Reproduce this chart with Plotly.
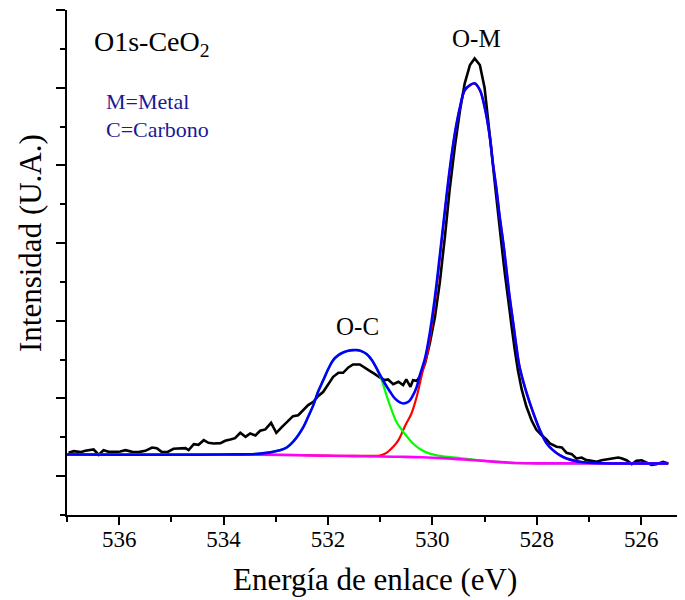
import plotly.graph_objects as go

# ---------------- data ----------------
# experimental spectrum (binding energy eV, intensity a.u.)
exp_x = [536.97, 536.87, 536.74, 536.65, 536.49, 536.39, 536.30, 536.20, 536.07, 535.98,
         535.88, 535.75, 535.63, 535.50, 535.37, 535.28, 535.18, 535.08, 534.96, 534.83,
         534.73, 534.67, 534.57, 534.48, 534.38, 534.29, 534.19, 534.06, 533.97, 533.87,
         533.78, 533.68, 533.58, 533.49, 533.39, 533.30, 533.20, 533.09, 532.99, 532.88,
         532.79, 532.67, 532.57, 532.47, 532.38, 532.28, 532.19, 532.09, 531.99, 531.90,
         531.80, 531.71, 531.61, 531.52, 531.39, 531.29, 531.20, 531.10, 531.01, 530.91,
         530.85, 530.75, 530.65, 530.56, 530.50, 530.42, 530.37, 530.30, 530.24, 530.14,
         530.05, 529.95, 529.86, 529.76, 529.67, 529.57, 529.47, 529.38, 529.28, 529.19,
         529.09, 529.00, 528.93, 528.87, 528.80, 528.74, 528.67, 528.61, 528.55, 528.48,
         528.42, 528.36, 528.29, 528.20, 528.10, 528.01, 527.91, 527.81, 527.75, 527.62,
         527.52, 527.43, 527.33, 527.24, 527.14, 527.05, 526.95, 526.85, 526.76, 526.66,
         526.54, 526.44, 526.38, 526.28, 526.18, 526.09, 525.99, 525.90, 525.80, 525.71,
         525.58, 525.48]
exp_y = [0.300, 0.322, 0.309, 0.326, 0.343, 0.275, 0.335, 0.313, 0.313, 0.318,
         0.335, 0.313, 0.309, 0.326, 0.369, 0.360, 0.309, 0.309, 0.352, 0.352,
         0.360, 0.335, 0.412, 0.403, 0.463, 0.429, 0.421, 0.425, 0.455, 0.472,
         0.489, 0.558, 0.506, 0.549, 0.524, 0.584, 0.601, 0.687, 0.558, 0.635,
         0.700, 0.773, 0.785, 0.850, 0.914, 0.957, 1.030, 1.086, 1.193, 1.279,
         1.330, 1.330, 1.399, 1.438, 1.438, 1.399, 1.356, 1.313, 1.270, 1.236,
         1.245, 1.184, 1.215, 1.172, 1.245, 1.150, 1.236, 1.227, 1.279, 1.451,
         1.708, 2.051, 2.481, 3.081, 3.682, 4.240, 4.712, 5.056, 5.292, 5.377,
         5.292, 5.000, 4.600, 4.200, 3.750, 3.350, 2.950, 2.600, 2.250, 1.920,
         1.620, 1.360, 1.120, 0.900, 0.720, 0.600, 0.530, 0.470, 0.421, 0.378,
         0.369, 0.300, 0.283, 0.227, 0.240, 0.206, 0.197, 0.185, 0.206, 0.215,
         0.223, 0.240, 0.230, 0.205, 0.155, 0.197, 0.205, 0.172, 0.146, 0.155,
         0.185, 0.163]

# background (magenta)
bg_x = [537.0, 534.0, 533.0, 532.5, 532.0, 531.5, 531.0, 530.6, 530.2, 529.8,
        529.4, 529.0, 528.7, 528.4, 528.0, 527.5, 525.5]
bg_y = [0.279, 0.278, 0.275, 0.270, 0.263, 0.258, 0.253, 0.249, 0.243, 0.232,
        0.215, 0.195, 0.180, 0.170, 0.165, 0.164, 0.164]

# O-C component (green)
oc_x = [537.0, 534.0, 533.3, 532.92, 532.79, 532.67, 532.57, 532.47, 532.38, 532.28,
        532.19, 532.09, 531.99, 531.90, 531.80, 531.71, 531.61, 531.52, 531.44, 531.36,
        531.26, 531.16, 531.07, 530.97, 530.88, 530.78, 530.69, 530.59, 530.50, 530.37,
        530.24, 530.05, 529.86, 529.5, 529.0, 528.5, 528.0, 525.5]
oc_y = [0.279, 0.279, 0.290, 0.335, 0.369, 0.442, 0.528, 0.635, 0.764, 0.914,
        1.086, 1.236, 1.386, 1.494, 1.558, 1.592, 1.614, 1.622, 1.622, 1.609,
        1.571, 1.494, 1.386, 1.236, 1.043, 0.850, 0.700, 0.600, 0.520, 0.420,
        0.350, 0.290, 0.262, 0.235, 0.200, 0.172, 0.165, 0.164]

# O-M component (red)
om_x = [537.0, 534.0, 532.5, 532.0, 531.5, 531.13, 531.01, 530.88, 530.75, 530.65,
        530.56, 530.50, 530.40, 530.30, 530.24, 530.18, 530.11, 530.05, 529.95, 529.86,
        529.76, 529.67, 529.57, 529.47, 529.38, 529.28, 529.19, 529.09, 529.00, 528.90,
        528.84, 528.77, 528.71, 528.64, 528.58, 528.52, 528.45, 528.39, 528.33, 528.23,
        528.13, 528.04, 527.94, 527.81, 527.69, 527.56, 527.43, 527.24, 527.05, 526.79,
        526.15, 525.48]
om_y = [0.279, 0.278, 0.270, 0.263, 0.260, 0.262, 0.266, 0.300, 0.378, 0.463,
        0.592, 0.678, 0.807, 1.021, 1.193, 1.365, 1.536, 1.760, 2.250, 2.790,
        3.400, 3.920, 4.400, 4.745, 4.965, 5.030, 5.053, 4.968, 4.753, 4.369,
        4.026, 3.682, 3.339, 2.996, 2.652, 2.309, 1.966, 1.665, 1.408, 1.150,
        0.936, 0.764, 0.592, 0.421, 0.335, 0.270, 0.227, 0.193, 0.176, 0.167,
        0.163, 0.163]

# total fit (blue)
fit_x = [537.0, 534.0, 533.3, 532.92, 532.79, 532.67, 532.57, 532.47, 532.38, 532.28,
         532.19, 532.09, 531.99, 531.90, 531.80, 531.71, 531.61, 531.52, 531.44, 531.36,
         531.26, 531.16, 531.07, 531.00, 530.91, 530.81, 530.72, 530.62, 530.56, 530.46,
         530.37, 530.30, 530.24, 530.14, 530.05, 529.95, 529.86, 529.76, 529.67, 529.57,
         529.47, 529.38, 529.28, 529.19, 529.09, 529.00, 528.90, 528.84, 528.77, 528.71,
         528.64, 528.58, 528.52, 528.45, 528.39, 528.33, 528.23, 528.13, 528.04, 527.94,
         527.81, 527.69, 527.56, 527.43, 527.24, 527.05, 526.79, 526.15, 525.48]
fit_y = [0.279, 0.279, 0.290, 0.335, 0.369, 0.442, 0.528, 0.635, 0.764, 0.914,
         1.086, 1.236, 1.386, 1.494, 1.558, 1.592, 1.614, 1.622, 1.622, 1.609,
         1.571, 1.494, 1.390, 1.300, 1.193, 1.086, 1.000, 0.949, 0.936, 0.957,
         1.043, 1.150, 1.300, 1.520, 1.840, 2.309, 2.824, 3.425, 3.940, 4.412,
         4.755, 4.970, 5.034, 5.056, 4.970, 4.755, 4.369, 4.026, 3.682, 3.339,
         2.996, 2.652, 2.309, 1.966, 1.665, 1.408, 1.150, 0.936, 0.764, 0.592,
         0.421, 0.335, 0.270, 0.227, 0.193, 0.176, 0.167, 0.163, 0.163]

x_ticks = [536, 534, 532, 530, 528, 526]
x_title = "Energía de enlace (eV)"
y_title = "Intensidad (U.A.)"

# ---------------- figure ----------------
SERIF = "Liberation Serif, Times New Roman, serif"
fig = go.Figure()
fig.add_trace(go.Scatter(x=exp_x, y=exp_y, mode="lines",
                         line=dict(color="#000000", width=2.6), name="exp"))
fig.add_trace(go.Scatter(x=om_x, y=om_y, mode="lines", line_shape="spline",
                         line=dict(color="#ff0000", width=2.2), name="O-M"))
fig.add_trace(go.Scatter(x=oc_x, y=oc_y, mode="lines", line_shape="spline",
                         line=dict(color="#00ff00", width=2.2), name="O-C"))
fig.add_trace(go.Scatter(x=bg_x, y=bg_y, mode="lines", line_shape="spline",
                         line=dict(color="#ff00ff", width=2.6), name="bg"))
fig.add_trace(go.Scatter(x=fit_x, y=fit_y, mode="lines", line_shape="spline",
                         line=dict(color="#0000ff", width=2.6), name="fit"))

# page has an 8 px body margin: compensate so the plot area lands where the reference has it
OFF = 8
PL, PT, PB, PR = 67, 10, 515, 685          # plot-area edges on the page
W, H = 685 - OFF, 600 - OFF
L, T = PL - OFF, PT - OFF
B = H - (PB - OFF)
pw = PR - PL
ph = PB - PT

def px(X):
    return (X - PL) / pw

def py(Y):
    return (PB - Y) / ph

fig.update_layout(
    width=W, height=H, autosize=False,
    margin=dict(l=L, r=0, t=T, b=B, pad=0),
    paper_bgcolor="white", plot_bgcolor="white",
    showlegend=False,
    font=dict(family=SERIF, color="black"),
    xaxis=dict(range=[537, 525.16], showgrid=False, zeroline=False,
               showline=True, linecolor="black", linewidth=2,
               ticks="outside", ticklen=8, tickwidth=2, tickcolor="black",
               tickvals=x_ticks, ticktext=[str(v) for v in x_ticks],
               ticklabelstandoff=-6,
               tickfont=dict(family=SERIF, size=23, color="black"),
               minor=dict(dtick=1, tick0=537, ticks="outside", ticklen=5,
                          tickwidth=2, tickcolor="black", showgrid=False)),
    yaxis=dict(range=[-0.5, 6], showgrid=False, zeroline=False,
               showline=True, linecolor="black", linewidth=2,
               ticks="outside", ticklen=9, tickwidth=2, tickcolor="black",
               tick0=0, dtick=1, showticklabels=False,
               minor=dict(dtick=0.5, tick0=0, ticks="outside", ticklen=5,
                          tickwidth=2, tickcolor="black", showgrid=False)),
)

ann = [
    dict(text="O1s-CeO<sub>2</sub>", x=px(92), y=py(44), xanchor="left", yanchor="middle",
         font=dict(size=28, color="black")),
    dict(text="M=Metal", x=px(104), y=py(101.5), xanchor="left", yanchor="middle",
         font=dict(size=22, color="#1a1a96")),
    dict(text="C=Carbono", x=px(104), y=py(129.5), xanchor="left", yanchor="middle",
         font=dict(size=22, color="#1a1a96")),
    dict(text="O-M", x=px(476), y=py(38), xanchor="center", yanchor="middle",
         font=dict(size=25, color="black")),
    dict(text="O-C", x=px(357), y=py(326), xanchor="center", yanchor="middle",
         font=dict(size=25, color="black")),
    dict(text=y_title, x=px(31), y=py(243), xanchor="center", yanchor="middle",
         textangle=-90, font=dict(size=31, color="black")),
    dict(text=x_title, x=px(375), y=py(599), xanchor="center", yanchor="bottom",
         font=dict(size=31, color="black")),
]
for a in ann:
    a.update(xref="paper", yref="paper", showarrow=False)
fig.update_layout(annotations=ann)

fig.write_html("out.html")
